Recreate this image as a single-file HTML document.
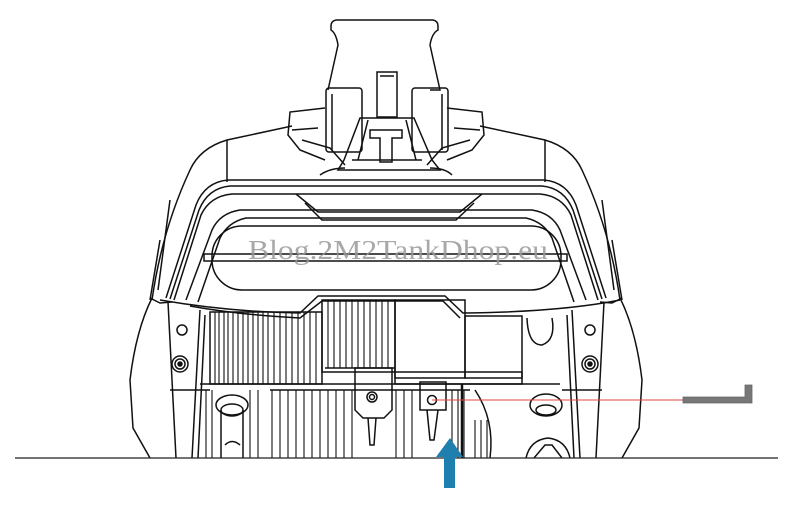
<!DOCTYPE html>
<html><head><meta charset="utf-8"><style>
html,body{margin:0;padding:0;background:#fff;}
svg{display:block;}
</style></head><body>
<svg width="800" height="506" viewBox="0 0 800 506" xmlns="http://www.w3.org/2000/svg">
<defs>
<g id="half" fill="none" stroke="#111" stroke-width="1.5">
  <path d="M292,126 L227,140 Q200,148 190,170 Q162,230 152,300"/>
  <path d="M227,140 L227,182"/>
  <path d="M386,180 L228,180 Q205,182 196,205 L166,298"/>
  <path d="M386,186 L230,186 Q208,188 199,210 L170,299"/>
  <path d="M386,194 L232,194 Q210,196 201,215 L174,300"/>
  <path d="M386,210 L240,210 Q220,213 212,230 L186,300"/>
  <path d="M386,218 L246,218 Q228,222 220,238 L198,302"/>
  <path d="M160,240 L150,300 M170,200 L158,290"/>
  <path d="M150,298 L160,303 L172,302"/>
  <path d="M152,298 Q136,330 130,380 L133,428 L150,458"/>
  <path d="M168,302 L176,458"/>
  <path d="M200,310 L192,458"/>
  <path d="M205,315 L198,458"/>
  <path d="M170,390 L210,390"/>
  <path d="M325,108 L290,112 L288,135 L300,150 L325,160"/>
  <path d="M292,130 L318,128"/>
  <path d="M302,140 L330,148 L345,165"/>
</g>
</defs>
<rect width="800" height="506" fill="#fff"/>
<use href="#half"/>
<use href="#half" transform="translate(772,0) scale(-1,1)"/>
<g fill="none" stroke="#111" stroke-width="1.5">
  <path d="M336,20 L433,20 Q438,21 438,26 L438,30 Q432,33 430,45 L440,90 L430,90 M336,20 Q331,21 331,26 L331,30 Q336,33 338,45 L328,90"/>
  <rect x="326" y="88" width="36" height="64" rx="3"/>
  <line x1="332" y1="94" x2="332" y2="150"/>
  <rect x="412" y="88" width="36" height="64" rx="3"/>
  <line x1="442" y1="94" x2="442" y2="150"/>
  <rect x="377" y="72" width="20" height="45"/>
  <line x1="380" y1="76" x2="394" y2="76"/>
  <path d="M360,118 L414,118 L432,160 L440,170 L338,170 L344,160 Z"/>
  <path d="M352,160 L422,160"/>
  <path d="M368,120 L358,160 M406,120 L416,160"/>
  <path d="M370,130 L402,130 L402,138 L392,138 L392,162 L380,162 L380,138 L370,138 Z"/>
  <path d="M296,194 L318,212 L460,212 L482,194"/>
  <path d="M305,203 L322,220 L456,220 L474,203"/>
  <rect x="212" y="226" width="349" height="64" rx="30"/>
  <rect x="204" y="254" width="363" height="7"/>
  <path d="M320,175 Q330,168 345,168 M430,168 Q445,168 452,175"/>
  <path d="M160,300 Q230,312 300,313 L318,296 L445,296 L463,313 Q560,312 620,300"/>
  <path d="M190,306 Q240,315 300,318 L322,301 L443,301 L460,318"/>
  <rect x="210" y="312" width="112" height="72"/>
  <rect x="322" y="300" width="73" height="72"/>
  <rect x="395" y="300" width="70" height="78"/>
  <rect x="465" y="316" width="57" height="62"/>
  <rect x="395" y="372" width="127" height="12"/>
  <line x1="325" y1="368" x2="395" y2="368"/>
  <path d="M355,368 L392,368 L392,410 L384,418 L363,418 L355,410 Z"/>
  <circle cx="372" cy="397" r="5"/><circle cx="372" cy="397" r="2.5"/>
  <path d="M368,418 L370,445 L374,445 L376,418"/>
  <path d="M420,382 L446,382 L446,410 L420,410 Z"/>
  <circle cx="432" cy="400" r="4.5"/>
  <path d="M427,410 L430,440 L434,440 L438,410"/>
  <line x1="200" y1="384" x2="560" y2="384"/>
  <line x1="270" y1="390" x2="470" y2="390"/>
  <circle cx="182" cy="330" r="5"/>
  <circle cx="180" cy="364" r="8"/><circle cx="180" cy="364" r="5"/><circle cx="180" cy="364" r="2" fill="#111"/>
  <circle cx="590" cy="330" r="5"/>
  <circle cx="590" cy="364" r="8"/><circle cx="590" cy="364" r="5"/><circle cx="590" cy="364" r="2" fill="#111"/>
  <path d="M527,318 Q528,345 542,345 Q556,340 552,318"/>
  <ellipse cx="232" cy="405" rx="16" ry="10"/><ellipse cx="232" cy="410" rx="11" ry="6"/>
  <line x1="221" y1="410" x2="221" y2="458"/><line x1="243" y1="410" x2="243" y2="458"/>
  <ellipse cx="546" cy="405" rx="16" ry="11"/><ellipse cx="546" cy="410" rx="10" ry="5"/>
  <path d="M526,458 Q530,440 548,438 Q566,440 570,458"/>
  <path d="M534,458 L545,445 L552,445 L562,458"/>
  <path d="M475,390 Q495,420 490,458"/>
  <path d="M225,445 Q232,438 240,445"/>
</g>
<g stroke="#111" stroke-width="1.1">
  <path d="M215,312v72M219,312v72M224,312v72M228,312v72M233,312v72M238,312v72M243,312v72M248,312v72M253,312v72M258,312v72M263,312v72M268,312v72M274,312v72M280,312v72M286,312v72M292,312v72M298,312v72M304,312v72M310,312v72M316,312v72"/>
  <path d="M328,300v68M334,300v68M340,300v68M346,300v68M352,300v68M358,300v68M364,300v68M370,300v68M376,300v68M382,300v68M388,300v68"/>
  <path d="M272,390v68M280,390v68M288,390v68M296,390v68M304,390v68M312,390v68M320,390v68M328,390v68M336,390v68M344,390v68M352,390v68M396,390v68M404,390v68M412,390v68M452,390v68M458,390v68M464,390v68"/>
  <path d="M206,390v68M212,390v68M250,390v68M258,390v68"/>
  <path d="M475,420v38M481,420v38M487,420v38"/>
</g>
<line x1="462" y1="384" x2="462" y2="458" stroke="#111" stroke-width="2.5"/>
<text x="248" y="259" font-family="'Liberation Serif',serif" font-size="27" fill="#999" fill-opacity="0.85" textLength="300" lengthAdjust="spacingAndGlyphs">Blog.2M2TankDhop.eu</text>
<line x1="15" y1="458" x2="778" y2="458" stroke="#222" stroke-width="1.3"/>
<line x1="432" y1="400" x2="684" y2="400" stroke="#d44" stroke-width="1"/>
<path d="M683,397 L745,397 L745,385 L752,385 L752,403 L683,403 Z" fill="#777" stroke="#666" stroke-width="0.8"/>
<path d="M444,488 L455,488 L455,457 L463,457 L450,438 L436,457 L444,457 Z" fill="#1f7fae"/>
</svg>
</body></html>
